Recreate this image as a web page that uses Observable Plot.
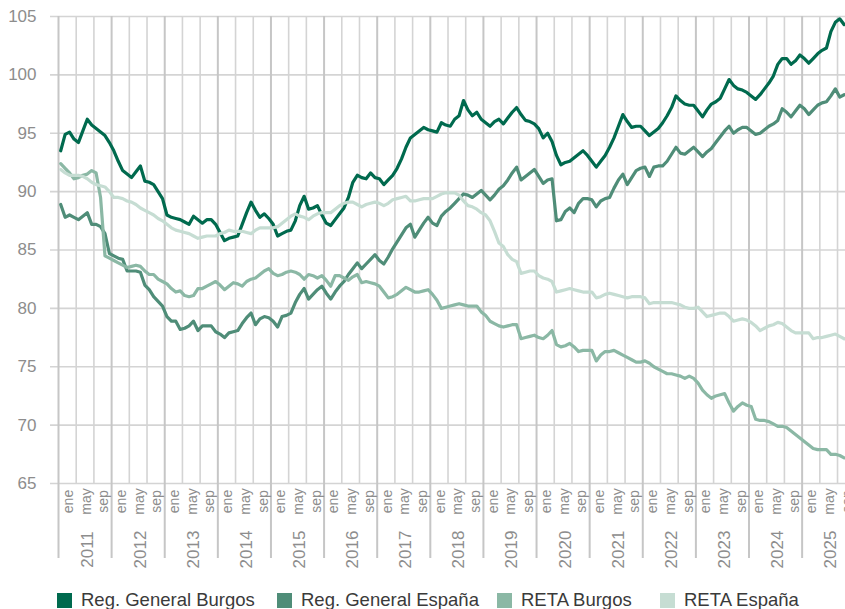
<!DOCTYPE html>
<html><head><meta charset="utf-8">
<script src="https://cdn.jsdelivr.net/npm/d3@7"></script>
<script src="https://cdn.jsdelivr.net/npm/@observablehq/plot@0.6"></script>
<style>
body{margin:0;overflow:hidden;background:#fff;font-family:"Liberation Sans",Arial,sans-serif;}
#legend{position:relative;height:26px;width:845px;}
.item{position:absolute;top:8px;display:flex;align-items:center;font-size:18.5px;line-height:18px;height:18px;color:#3a3a3a;white-space:nowrap}
.sw{width:15px;height:15px;margin-right:9px;flex:none}
</style></head><body>
<div id="chart"></div><div id="legend"></div>
<script>
const years = [2011,2012,2013,2014,2015,2016,2017,2018,2019,2020,2021,2022,2023,2024,2025];
const monthLabels = ["ene","may","sep"];
const yTicks = [65,70,75,80,85,90,95,100,105];
const seriesNames = ["Reg. General Burgos","Reg. General España","RETA Burgos","RETA España"];
const seriesColors = ["#006a4e","#4f8d78","#8bb8a5","#c6ddd3"];

const regGeneralBurgos = [
93.5,94.9,95.1,94.5,94.2,95.2,96.2,95.7,95.4,95.1,94.8,94.2,
93.5,92.6,91.8,91.5,91.2,91.7,92.2,90.9,90.8,90.6,90.0,89.4,
88.0,87.8,87.7,87.6,87.4,87.2,87.9,87.6,87.3,87.6,87.6,87.2,
86.5,85.8,86.0,86.1,86.2,87.2,88.2,89.1,88.4,87.8,88.1,87.7,
87.2,86.2,86.4,86.6,86.7,87.5,88.8,89.6,88.5,88.6,88.8,88.0,
87.3,87.1,87.6,88.1,88.6,89.5,90.8,91.4,91.2,91.1,91.6,91.2,
91.1,90.6,91.0,91.4,92.0,92.8,93.8,94.6,94.9,95.2,95.5,95.3,
95.2,95.1,95.9,95.7,95.6,96.2,96.5,97.8,97.0,96.5,96.8,96.2,
95.9,95.6,96.0,96.2,95.8,96.3,96.8,97.2,96.6,96.1,96.0,95.8,
95.4,94.6,95.0,94.3,93.1,92.3,92.5,92.6,92.9,93.2,93.5,93.1,
92.6,92.1,92.6,93.1,93.8,94.6,95.6,96.6,96.0,95.5,95.6,95.6,
95.2,94.8,95.1,95.4,95.9,96.5,97.2,98.2,97.8,97.5,97.4,97.4,
96.9,96.4,97.0,97.5,97.7,98.0,98.8,99.6,99.1,98.8,98.7,98.5,
98.2,97.9,98.3,98.8,99.3,99.9,100.9,101.4,101.4,100.9,101.2,101.7,
101.4,101.0,101.4,101.8,102.1,102.3,103.7,104.5,104.8,104.3];

const regGeneralEspana = [
88.9,87.8,88.0,87.8,87.6,87.9,88.2,87.2,87.2,87.0,86.4,84.7,
84.5,84.3,84.2,83.2,83.2,83.2,83.1,82.0,81.6,81.0,80.6,80.2,
79.3,78.9,78.9,78.2,78.3,78.5,78.9,78.1,78.5,78.5,78.5,78.0,
77.8,77.5,77.9,78.0,78.1,78.7,79.2,79.6,78.6,79.1,79.3,79.2,
78.9,78.4,79.3,79.4,79.6,80.5,81.2,81.7,80.8,81.2,81.6,81.9,
81.3,80.8,81.4,81.9,82.3,82.9,83.4,83.9,83.4,83.8,84.2,84.6,
84.1,83.8,84.4,85.1,85.7,86.3,86.9,87.2,86.1,86.7,87.3,87.8,
87.3,87.1,87.9,88.3,88.6,89.0,89.4,89.8,89.7,89.5,89.8,90.1,
89.7,89.3,89.7,90.2,90.5,91.0,91.6,92.1,91.0,91.3,91.6,91.9,
91.3,90.7,91.0,91.1,87.5,87.6,88.3,88.6,88.2,89.0,89.4,89.4,
89.3,88.7,89.2,89.4,89.5,90.3,91.0,91.5,90.6,91.2,91.8,92.0,
92.1,91.3,92.1,92.2,92.2,92.6,93.2,93.8,93.3,93.2,93.5,93.8,
93.4,93.0,93.4,93.7,94.2,94.7,95.2,95.6,95.0,95.3,95.5,95.5,
95.2,94.9,95.0,95.3,95.6,95.8,96.1,97.1,96.8,96.4,96.9,97.4,
97.1,96.6,97.0,97.4,97.6,97.7,98.2,98.8,98.1,98.3];

const retaBurgos = [
92.4,92.0,91.6,91.1,91.2,91.4,91.5,91.8,91.6,89.5,84.5,84.3,
84.1,83.9,83.7,83.5,83.6,83.7,83.6,83.2,82.9,82.9,82.5,82.3,
82.1,81.7,81.4,81.5,81.1,81.0,81.1,81.7,81.7,81.9,82.1,82.3,
82.0,81.6,81.9,82.2,82.1,81.9,82.3,82.5,82.6,82.9,83.2,83.4,
83.0,82.8,82.9,83.1,83.2,83.1,82.9,82.5,82.9,82.8,82.6,82.8,
82.4,81.9,82.8,82.8,82.6,82.4,82.7,82.9,82.2,82.3,82.2,82.1,
81.9,81.4,80.9,81.0,81.2,81.5,81.8,81.6,81.4,81.4,81.5,81.6,
81.2,80.7,80.0,80.1,80.2,80.3,80.4,80.3,80.2,80.2,80.2,79.7,
79.4,78.9,78.7,78.5,78.4,78.5,78.6,78.6,77.4,77.5,77.6,77.7,
77.5,77.4,77.7,78.1,76.9,76.7,76.8,77.0,76.7,76.3,76.4,76.4,
76.4,75.5,76.0,76.3,76.3,76.4,76.2,76.0,75.8,75.6,75.4,75.4,
75.5,75.3,75.0,74.8,74.6,74.4,74.4,74.3,74.2,74.0,74.2,74.0,
73.6,73.0,72.6,72.3,72.5,72.6,72.7,71.9,71.2,71.6,71.9,71.7,
71.6,70.5,70.4,70.4,70.3,70.1,69.9,69.9,69.8,69.5,69.2,68.9,
68.6,68.3,68.0,67.9,67.9,67.9,67.5,67.5,67.4,67.2];

const retaEspana = [
91.9,91.6,91.4,91.4,91.4,91.3,91.1,90.8,90.6,90.5,90.4,90.0,
89.5,89.5,89.4,89.2,89.1,88.9,88.6,88.4,88.2,88.0,87.7,87.5,
87.2,86.9,86.7,86.6,86.5,86.4,86.2,86.0,86.1,86.2,86.2,86.2,
86.4,86.5,86.7,86.6,86.6,86.6,86.5,86.4,86.7,86.9,86.9,86.9,
86.9,87.0,87.3,87.6,87.9,88.1,87.9,87.8,87.6,87.9,88.1,88.2,
88.2,88.2,88.5,88.8,89.0,89.1,89.1,88.9,88.7,88.9,89.0,89.1,
89.0,88.8,89.0,89.3,89.4,89.5,89.6,89.2,89.2,89.3,89.4,89.4,
89.4,89.6,89.8,89.9,89.9,89.9,89.7,89.2,88.8,88.7,88.5,88.2,
88.0,87.5,86.6,85.6,85.3,84.6,84.2,84.0,83.0,83.1,83.2,83.2,
82.8,82.6,82.5,82.3,81.4,81.5,81.6,81.7,81.6,81.5,81.4,81.4,
81.4,80.9,81.0,81.2,81.3,81.2,81.1,81.0,80.9,81.0,81.0,81.0,
80.9,80.4,80.5,80.5,80.5,80.5,80.5,80.4,80.3,80.1,80.0,80.0,
80.1,79.7,79.3,79.4,79.5,79.6,79.6,79.3,78.9,79.0,79.1,79.0,
78.8,78.5,78.1,78.3,78.5,78.6,78.8,78.7,78.4,78.1,77.9,77.9,
77.9,77.9,77.4,77.5,77.5,77.6,77.7,77.8,77.6,77.4];

const allSeries = [regGeneralBurgos, regGeneralEspana, retaBurgos, retaEspana];
const table = [];
allSeries.forEach((vals, k) => vals.forEach((v, i) => table.push({x: i + 0.5, y: v, s: seriesNames[k]})));

const nMonths = years.length * 12;
const monthTicks = d3.range(0, nMonths, 4);
const yearTicks = d3.range(0, nMonths, 12);
const innerTicks = monthTicks.filter(t => t % 12 !== 0);
const monthLabelData = [];
years.forEach((yr, yi) => monthLabels.forEach((m, k) => monthLabelData.push({x: yi * 12 + k * 4 + 2, label: m})));
const yearLabelData = years.map((yr, yi) => ({x: yi * 12 + 6, label: String(yr)}));

const gridColor = "#d4d4d4";
const chart = Plot.plot({
  width: 845, height: 583,
  marginLeft: 58, marginRight: 0, marginTop: 16, marginBottom: 100,
  style: {fontFamily: "'Liberation Sans', Arial, sans-serif", background: "white", overflow: "visible"},
  x: {domain: [0, 177.8], axis: null},
  y: {domain: [65, 105], axis: null},
  color: {domain: seriesNames, range: seriesColors},
  marks: [
    Plot.ruleY(yTicks, {stroke: gridColor, strokeWidth: 1.6, insetLeft: -8}),
    Plot.ruleX(innerTicks, {stroke: gridColor, strokeWidth: 1.6}),
    Plot.ruleX(yearTicks, {stroke: "#c6c6c6", strokeWidth: 2, insetBottom: -75}),
    Plot.text(yTicks, {x: 0, y: d => d, text: d => String(d), textAnchor: "end", dx: -22, fontSize: 17, fill: "#8d8d8d"}),
    Plot.text(monthLabelData, {x: "x", y: () => 65, text: "label", rotate: -90, textAnchor: "middle", dy: 18, dx: 1, fontSize: 14, fill: "#8d8d8d"}),
    Plot.text(yearLabelData, {x: "x", y: () => 65, text: "label", rotate: -90, textAnchor: "middle", dy: 66, dx: 2, fontSize: 17, fill: "#8d8d8d"}),
    Plot.line(table, {x: "x", y: "y", z: "s", stroke: "s", strokeWidth: 3.2, strokeLinejoin: "round"})
  ]
});
document.getElementById("chart").appendChild(chart);

const legendLeft = [57, 277, 497, 660];
const legend = document.getElementById("legend");
seriesNames.forEach((name, k) => {
  const it = document.createElement("div");
  it.className = "item";
  it.style.left = legendLeft[k] + "px";
  const sw = document.createElement("span");
  sw.className = "sw";
  sw.style.background = seriesColors[k];
  const tx = document.createElement("span");
  tx.textContent = name;
  it.appendChild(sw); it.appendChild(tx);
  legend.appendChild(it);
});
</script>
</body></html>
